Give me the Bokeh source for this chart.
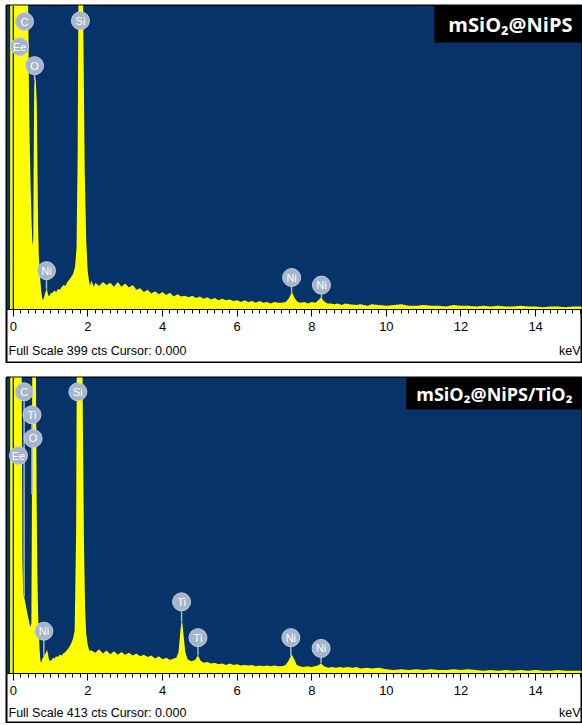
from bokeh.plotting import figure
from bokeh.layouts import column
from bokeh.models import Label, SingleIntervalTicker, Range1d, BoxAnnotation
from bokeh.core.properties import value
from bokeh.embed import file_html
from bokeh.resources import INLINE
import numpy as np

# ---------------- data ----------------
# Panel 1: mSiO2@NiPS  (energy keV, counts)
energy_1 = [-0.085, -0.075, 0.045, 0.145, 0.245, 0.325, 0.365, 0.395, 0.425, 0.465, 0.495, 0.515, 0.535,
            0.545, 0.56, 0.575, 0.605, 0.63, 0.645, 0.665, 0.685, 0.715, 0.745, 0.775, 0.795, 0.825,
            0.855, 0.90, 0.93, 0.96, 1.00, 1.05, 1.10, 1.15, 1.20, 1.25, 1.30, 1.35, 1.40, 1.45, 1.50,
            1.555, 1.605, 1.655, 1.695, 1.725, 1.755, 1.795, 1.835, 1.875, 1.915, 1.955, 1.995, 2.035,
            2.06, 2.09, 2.16, 2.20, 2.30, 2.40, 2.50, 2.60, 2.70, 2.80, 2.90, 3.00, 3.10, 3.20, 3.30,
            3.40, 3.50, 3.60, 3.70, 3.80, 3.90, 4.00, 4.10, 4.20, 4.30, 4.40, 4.50, 4.60, 4.70, 4.80,
            4.90, 5.00, 5.10, 5.20, 5.30, 5.40, 5.50, 5.60, 5.70, 5.80, 5.90, 6.00, 6.10, 6.20, 6.30,
            6.40, 6.50, 6.60, 6.70, 6.80, 6.90, 7.00, 7.10, 7.20, 7.30, 7.38, 7.44, 7.48, 7.54, 7.62,
            7.70, 7.80, 7.90, 8.00, 8.10, 8.18, 8.25, 8.32, 8.42, 8.52, 8.60, 8.70, 8.80, 8.90, 9.00,
            9.20, 9.30, 9.50, 9.60, 9.80, 10.0, 10.2, 10.4, 10.6, 10.8, 11.0, 11.2, 11.4, 11.6, 11.8,
            12.0, 12.2, 12.4, 12.6, 12.8, 13.0, 13.2, 13.4, 13.6, 13.8, 14.0, 14.2, 14.4, 14.6, 14.8,
            15.0, 15.3]
counts_1 = [0, 1500, 1600, 1500, 1300, 1200, 700, 420, 260, 160, 110, 85, 90,
            180, 290, 307, 300, 270, 200, 110, 70, 45, 26, 15, 12, 16,
            22, 27, 20, 17, 21, 22, 25, 23, 27, 26, 30, 32, 31, 36, 39,
            43, 47, 56, 80, 200, 500, 800, 650, 380, 180, 90, 50, 36,
            31, 38, 30, 35, 31, 36, 32, 35, 30, 36, 30, 34, 29, 32, 26,
            28, 23, 26, 21, 24, 20, 23, 19, 22, 17, 20, 17, 18, 16, 18,
            15, 17, 14, 16, 13, 15, 12, 14, 12, 13, 11, 12, 10, 12, 10,
            11, 9, 11, 9, 10, 8, 10, 9, 9, 10, 14, 20, 22, 15, 10,
            9, 10, 8, 10, 9, 12, 16, 11, 8, 8, 7, 8, 6, 8, 7,
            6, 7, 5, 7, 6, 5, 6, 7, 5, 5, 6, 5, 5, 4, 6,
            5, 5, 4, 5, 4, 5, 4, 4, 5, 4, 4, 3, 4, 4, 3,
            4, 4]

# Panel 2: mSiO2@NiPS/TiO2
energy_2 = [-0.085, -0.075, 0.045, 0.145, 0.205, 0.225, 0.245, 0.265, 0.295, 0.325, 0.355, 0.385, 0.425,
            0.455, 0.485, 0.50, 0.515, 0.545, 0.575, 0.605, 0.625, 0.645, 0.665, 0.685, 0.705, 0.725,
            0.745, 0.775, 0.805, 0.845, 0.875, 0.905, 0.925, 0.955, 0.995, 1.025, 1.065, 1.105, 1.145,
            1.195, 1.245, 1.295, 1.345, 1.395, 1.445, 1.50, 1.55, 1.60, 1.645, 1.685, 1.715, 1.755,
            1.795, 1.835, 1.865, 1.895, 1.925, 1.955, 1.995, 2.035,
            2.10, 2.20, 2.30, 2.40, 2.50, 2.60, 2.70, 2.80, 2.90, 3.00, 3.10, 3.20, 3.30, 3.40, 3.50,
            3.60, 3.70, 3.80, 3.90, 4.00, 4.10, 4.20, 4.30, 4.37, 4.43, 4.48, 4.52, 4.56, 4.61, 4.67,
            4.77, 4.87, 4.95, 5.02, 5.10, 5.20, 5.30, 5.40, 5.50, 5.60, 5.70, 5.80, 5.90, 6.00, 6.10,
            6.20, 6.30, 6.40, 6.50, 6.60, 6.70, 6.80, 6.90, 7.00, 7.10, 7.20, 7.30, 7.38, 7.46, 7.53,
            7.60, 7.68, 7.78, 7.88, 7.98, 8.08, 8.16, 8.25, 8.33, 8.44, 8.55, 8.65, 8.75, 8.85, 8.95,
            9.10, 9.20, 9.30, 9.50, 9.60, 9.80, 10.0, 10.2, 10.4, 10.6, 10.8, 11.0, 11.2, 11.4, 11.6,
            11.8, 12.0, 12.2, 12.4, 12.6, 12.8, 13.0, 13.2, 13.4, 13.6, 13.8, 14.0, 14.2, 14.4, 14.6,
            14.8, 15.0, 15.3]
counts_2 = [0, 1500, 1600, 1400, 900, 420, 160, 112, 106, 98, 90, 82, 72,
            65, 70, 250, 600, 900, 750, 450, 250, 140, 85, 55, 34, 18,
            15, 20, 23, 26, 29, 33, 29, 20, 17, 19, 22, 21, 24,
            23, 26, 25, 28, 30, 33, 37, 42, 48, 60, 200, 600, 900,
            850, 600, 350, 180, 90, 55, 40, 32,
            32, 29, 34, 28, 32, 27, 31, 26, 30, 26, 29, 25, 28, 24, 26,
            23, 25, 21, 24, 20, 22, 19, 21, 22, 30, 60, 77, 55, 30, 20,
            17, 19, 25, 18, 15, 16, 14, 15, 13, 14, 12, 14, 12, 13, 11,
            12, 11, 12, 10, 11, 10, 11, 10, 11, 10, 10, 12, 18, 27, 20,
            12, 10, 9, 10, 9, 10, 11, 14, 10, 8, 9, 8, 9, 8, 9,
            8, 9, 7, 8, 7, 8, 6, 5, 6, 5, 6, 5, 6, 5, 5,
            6, 5, 6, 5, 4, 5, 4, 5, 4, 5, 4, 5, 4, 4, 5,
            4, 4, 4]

# element markers: name, energy (keV), marker level (counts)
elem_1 = ["C", "Ee", "O", "Si", "Ni", "Ni", "Ni"]
elem_e_1 = [0.30, 0.17, 0.57, 1.80, 0.89, 7.46, 8.26]
elem_l_1 = [378, 345, 320, 379, 51, 42, 32]

elem_2 = ["C", "Ti", "O", "Ee", "Si", "Ni", "Ti", "Ti", "Ni", "Ni"]
elem_e_2 = [0.29, 0.50, 0.53, 0.14, 1.73, 0.82, 4.51, 4.95, 7.44, 8.25]
elem_l_2 = [393, 361, 328, 304, 393, 59, 100, 50, 50, 35]

full_scale_1 = 399
full_scale_2 = 413
cursor_keV = 0.0
x_ticks_interval = 2

BLUE = "#06336a"
YELLOW = "#ffff00"
BADGE = "#a6b5ca"
FRAME_W = 575


def make_panel(E, C, full_scale, names, e_e, e_l, tag, tag_size, pad,
               blue_px, white_px, info_y, top_border):
    y0 = -full_scale * white_px / blue_px
    p = figure(frame_width=FRAME_W, frame_height=blue_px + white_px,
               x_range=Range1d(-0.182, 15.23), y_range=Range1d(y0, full_scale),
               output_backend="svg", toolbar_location=None, y_axis_location=None,
               min_border_left=6, min_border_right=1, min_border_top=top_border, min_border_bottom=1,
               background_fill_color="white", border_fill_color="white",
               outline_line_color="black", outline_line_width=2)
    p.grid.visible = False

    p.add_layout(BoxAnnotation(bottom=0, top=full_scale, fill_color=BLUE, fill_alpha=1.0,
                               line_color=None, level="underlay"))

    ax = p.xaxis[0]
    ax.fixed_location = 0
    ax.ticker = SingleIntervalTicker(interval=x_ticks_interval, num_minor_ticks=10)
    ax.major_tick_out = 7
    ax.major_tick_in = 0
    ax.minor_tick_out = 4
    ax.minor_tick_in = 0
    ax.major_tick_line_color = "black"
    ax.minor_tick_line_color = "black"
    ax.axis_line_color = "black"
    ax.major_label_text_font = "Liberation Sans"
    ax.major_label_text_font_size = "13px"
    ax.major_label_text_color = "black"
    ax.major_label_standoff = 5

    p.varea(x=E, y1=0, y2=C, fill_color=YELLOW)

    p.segment(x0=[cursor_keV], y0=[0], x1=[cursor_keV], y1=[full_scale],
              line_color="black", line_width=1.2)

    e_e = np.array(e_e)
    e_l = np.array(e_l)
    spec_at = np.interp(e_e, np.array(E), np.array(C))
    p.segment(x0=e_e, y0=e_l, x1=e_e, y1=np.minimum(spec_at, e_l), line_color=BADGE, line_width=1.5)
    p.scatter(x=e_e, y=e_l, size=18, fill_color=BADGE, line_color="#c3cedd", line_width=1)
    p.text(x=e_e, y=e_l, text=names, text_align="center", text_baseline="middle",
           text_font=value("Liberation Sans"), text_font_size="11px", text_color="white")

    p.add_layout(Label(x=FRAME_W, y=blue_px + white_px, x_units="screen", y_units="screen", text=tag,
                       text_align="right", text_baseline="top",
                       text_font="Open Sans", text_font_style="bold", text_font_size=tag_size,
                       text_color="white", background_fill_color="black", padding=pad))

    p.add_layout(Label(x=2, y=info_y, x_units="screen", y_units="screen",
                       text=f"Full Scale {full_scale} cts Cursor: {cursor_keV:.3f}",
                       text_baseline="middle", text_font="Liberation Sans", text_font_size="12.5px",
                       text_color="black"))
    p.add_layout(Label(x=FRAME_W - 1, y=info_y, x_units="screen", y_units="screen", text="keV",
                       text_align="right", text_baseline="middle", text_font="Liberation Sans",
                       text_font_size="12.5px", text_color="black"))
    return p


p1 = make_panel(energy_1, counts_1, full_scale_1, elem_1, elem_e_1, elem_l_1,
                "mSiO\u2082@NiPS", "20px", dict(left=14, right=9, top=5, bottom=5),
                304, 53, 12, 5)
p2 = make_panel(energy_2, counts_2, full_scale_2, elem_2, elem_e_2, elem_l_2,
                "mSiO\u2082@NiPS/TiO\u2082", "18px", dict(left=10, right=9, top=4, bottom=4),
                296, 49, 10, 14)

layout = column(p1, p2, spacing=0)
open("out.html", "w").write(file_html(layout, INLINE))
